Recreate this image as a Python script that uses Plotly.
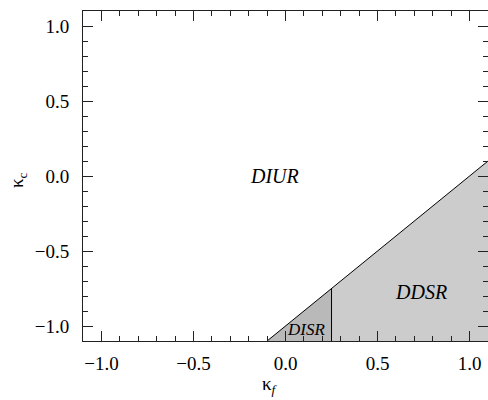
import plotly.graph_objects as go

# Region boundaries (kappa_f, kappa_c)
disr_kf = [-0.1, 0.25, 0.25, -0.1]
disr_kc = [-1.1, -0.75, -1.1, -1.1]
ddsr_kf = [0.25, 0.25, 1.1, 1.1, 0.25]
ddsr_kc = [-1.1, -0.75, 0.1, -1.1, -1.1]
bound_kf = [-0.1, 1.1]
bound_kc = [-1.1, 0.1]
split_kf = [0.25, 0.25]
split_kc = [-1.1, -0.75]

labels = ["DIUR", "DDSR", "DISR"]
label_kf = [-0.06, 0.735, 0.11]
label_kc = [0.0, -0.775, -1.02]
label_size = [20, 20, 17]

SERIF = "Liberation Serif"

fig = go.Figure()
fig.add_trace(go.Scatter(x=ddsr_kf, y=ddsr_kc, fill="toself", fillcolor="#cccccc",
                         mode="none", hoverinfo="skip", showlegend=False))
fig.add_trace(go.Scatter(x=disr_kf, y=disr_kc, fill="toself", fillcolor="#b9b9b9",
                         mode="none", hoverinfo="skip", showlegend=False))
fig.add_trace(go.Scatter(x=bound_kf, y=bound_kc, mode="lines",
                         line=dict(color="black", width=1), showlegend=False))
fig.add_trace(go.Scatter(x=split_kf, y=split_kc, mode="lines",
                         line=dict(color="black", width=1), showlegend=False))

for t, x, y, s in zip(labels, label_kf, label_kc, label_size):
    fig.add_annotation(x=x, y=y, text="<i>%s</i>" % t, showarrow=False,
                       font=dict(family=SERIF, size=s, color="black"))

axis_common = dict(
    range=[-1.1, 1.1], dtick=0.5, tick0=0, tickformat=".1f",
    ticks="inside", ticklen=10, tickwidth=1, tickcolor="#222222",
    showline=True, linecolor="#222222", linewidth=1, mirror="allticks",
    showgrid=False, zeroline=False,
    minor=dict(dtick=0.1, ticks="inside", ticklen=5, tickcolor="#222222", showgrid=False),
    tickfont=dict(family=SERIF, size=19, color="black"),
)
fig.update_xaxes(**axis_common, ticklabelstandoff=5)
fig.update_yaxes(**axis_common, ticklabelstandoff=9)

fig.add_annotation(xref="paper", yref="paper", x=(270 - 83) / 405, y=(341 - 385) / 330,
                   xanchor="center", yanchor="middle",
                   text="κ<sub><i>f</i></sub>", showarrow=False,
                   font=dict(family=SERIF, size=19, color="black"))
fig.add_annotation(xref="paper", yref="paper", x=(18 - 83) / 405, y=(341 - 180) / 330,
                   xanchor="center", yanchor="middle",
                   text="κ<sub>c</sub>", showarrow=False, textangle=-90,
                   font=dict(family=SERIF, size=19, color="black"))

fig.update_layout(width=488, height=400, margin=dict(l=83, r=0, t=11, b=59),
                  plot_bgcolor="white", paper_bgcolor="white",
                  font=dict(family=SERIF))
fig.write_html("out.html")
